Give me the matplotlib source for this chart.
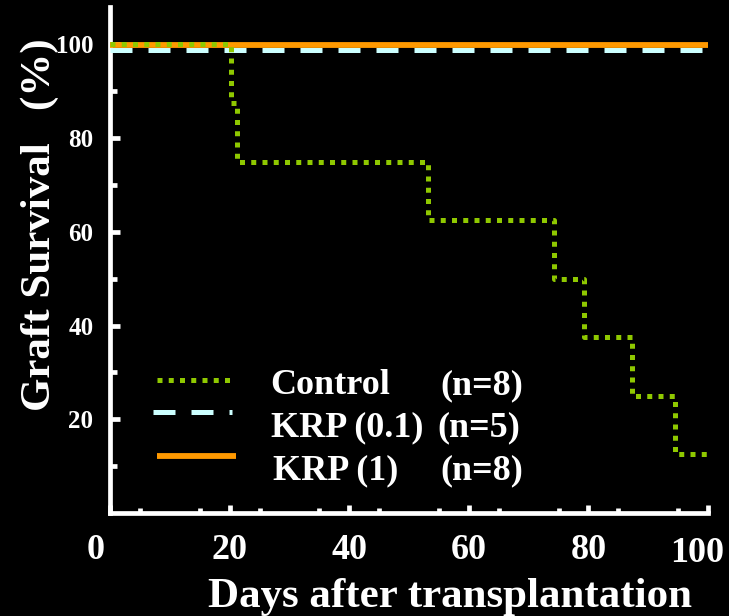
import matplotlib
matplotlib.use("Agg")
import matplotlib.pyplot as plt
from matplotlib.lines import Line2D
from matplotlib.transforms import ScaledTranslation

# ---- data ----
control_days = [0, 20.3, 21.2, 53.2, 74.2, 79.3, 87.3, 94.5, 100]
control_surv = [100, 87.5, 75, 62.5, 50, 37.5, 25, 12.5, 12.5]
krp01_days = [0, 100]
krp01_surv = [100, 100]
krp1_days = [0, 100]
krp1_surv = [100, 100]
series_names = ["Control", "KRP (0.1)", "KRP (1)"]
series_n = ["(n=8)", "(n=5)", "(n=8)"]
x_ticks = [0, 20, 40, 60, 80, 100]
y_ticks = [20, 40, 60, 80, 100]

GREEN = "#8fc800"
CYAN = "#ccffff"
ORANGE = "#ff9900"
FONT = "Liberation Serif"

fig = plt.figure(figsize=(7.29, 6.16), dpi=100, facecolor="black")
ax = fig.add_axes([110/729, 1-513/616, 598/729, 506/616], facecolor="black")

ax.set_xlim(0, 100)
ax.set_ylim(0, 108)

px = 1/100.0  # one pixel in inches
off_or = ScaledTranslation(0, -1.0*px, fig.dpi_scale_trans)
off_cy = ScaledTranslation(0, -5.5*px, fig.dpi_scale_trans)

ax.plot(krp1_days, krp1_surv, color=ORANGE, lw=4.2, solid_capstyle="butt",
        transform=ax.transData + off_or, zorder=3)
ax.plot(krp01_days, krp01_surv, color=CYAN, lw=3.6, dashes=(4.4, 3.2),
        dash_capstyle="butt", transform=ax.transData + off_cy, zorder=4)
ax.plot(control_days, control_surv, color=GREEN, lw=3.6, drawstyle="steps-post",
        dashes=(1, 1.25), dash_capstyle="butt", zorder=5)

# spines
for s in ["top", "right"]:
    ax.spines[s].set_visible(False)
for s in ["left", "bottom"]:
    ax.spines[s].set_color("white")
    ax.spines[s].set_linewidth(3.4)
    ax.spines[s].set_capstyle("projecting")

ax.set_xticks(x_ticks)
ax.set_xticks(range(5, 100, 10), minor=True)
ax.set_yticks(y_ticks)
ax.set_yticks(range(10, 100, 20), minor=True)
ax.tick_params(which="both", direction="in", colors="white", width=3.4)
ax.tick_params(axis="x", which="major", length=6, pad=15)
ax.tick_params(axis="x", which="minor", length=3.5)
ax.tick_params(axis="y", which="major", length=7, pad=12)
ax.tick_params(axis="y", which="minor", length=5)
ax.set_xticklabels([str(v) for v in x_ticks], fontsize=26, fontweight="bold",
                   family=FONT, color="white")
ax.set_yticklabels([str(v) for v in y_ticks], fontsize=18, fontweight="bold",
                   family=FONT, color="white")

# per-label nudges (style only)
x_label_nudge = {0: (-14, 0), 100: (-11, -3)}
for tick_val, lab in zip(x_ticks, ax.get_xticklabels()):
    if tick_val in x_label_nudge:
        dx, dy = x_label_nudge[tick_val]
        lab.set_transform(lab.get_transform() + ScaledTranslation(dx*px, dy*px, fig.dpi_scale_trans))

# axis titles
fig.text(450/729, 1-607/616, "Days after transplantation", fontsize=31, fontweight="bold",
         family=FONT, color="white", ha="center", va="baseline")
fig.text(50/729, 1-225/616, "Graft Survival   (%)", fontsize=31, fontweight="bold",
         family=FONT, color="white", ha="center", va="baseline", rotation=90,
         rotation_mode="anchor")

# manual legend
handle_styles = [
    dict(color=GREEN, lw=3.6, dashes=(1, 1.25), dash_capstyle="butt"),
    dict(color=CYAN, lw=3.6, dashes=(4.4, 3.2), dash_capstyle="butt"),
    dict(color=ORANGE, lw=4.2, solid_capstyle="butt"),
]
handle_x = [(0.079, 0.209), (0.072, 0.204), (0.079, 0.21)]
row_y = [0.252, 0.168, 0.083]
handle_y = [0.263, 0.1996, 0.1126]
name_x = [0.2676, 0.269, 0.273]
n_x = [0.552, 0.547, 0.552]
for i in range(3):
    ax.add_line(Line2D(handle_x[i], [handle_y[i]]*2, transform=ax.transAxes, **handle_styles[i]))
    ax.text(name_x[i], row_y[i], series_names[i], transform=ax.transAxes,
            fontsize=26, fontweight="bold", family=FONT, color="white", ha="left", va="center")
    ax.text(n_x[i], row_y[i], series_n[i], transform=ax.transAxes,
            fontsize=26, fontweight="bold", family=FONT, color="white", ha="left", va="center")

fig.savefig("out.png", dpi=100, facecolor="black")
